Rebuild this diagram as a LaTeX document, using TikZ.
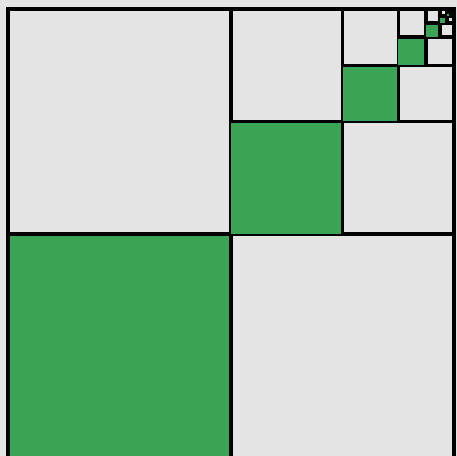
\documentclass[tikz,border=0pt]{standalone}
\usepackage{tikz}

\definecolor{bggray}{RGB}{228,228,228}
\definecolor{leafgreen}{RGB}{59,164,84}

\tikzset{
  gridline/.style={line width=1.9pt, black, line cap=rect},
}

\begin{document}
\begin{tikzpicture}[x=0.02cm, y=-0.02cm]
    % 背景
    \useasboundingbox (0,0) rectangle (457,456);
    \clip (0,0) rectangle (457,456);
    \fill[bggray] (0,0) rectangle (457,456);

    % 逐层细分右上角
    \foreach \k in {0,...,9}{
        \pgfmathsetmacro{\ww}{446/2^\k}
        \pgfmathsetmacro{\hh}{450/2^\k}
        \pgfmathsetmacro{\xx}{454-\ww}
        \fill[leafgreen] (\xx, 9+\hh/2) rectangle (\xx+\ww/2, 9+\hh);
        \draw[gridline] (\xx+\ww/2, 9) -- (\xx+\ww/2, 9+\hh);
        \draw[gridline] (\xx, 9+\hh/2) -- (\xx+\ww, 9+\hh/2);
    }

    % 外框
    \draw[gridline] (8,9) rectangle (454,459);
\end{tikzpicture}
\end{document}
